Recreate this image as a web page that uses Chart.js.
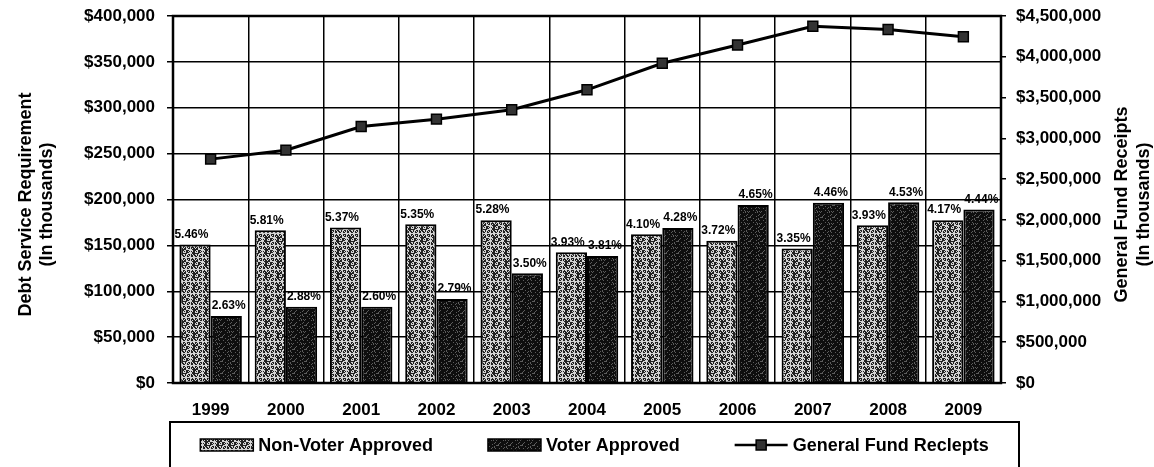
<!DOCTYPE html>
<html>
<head>
<meta charset="utf-8">
<script src="https://cdn.jsdelivr.net/npm/chart.js@4"></script>
<style>
  html, body { margin: 0; padding: 0; background: #fff; }
</style>
</head>
<body>
<canvas id="myChart" width="1154" height="467"></canvas>
<script>
// ---- data ----
let years = ["1999","2000","2001","2002","2003","2004","2005","2006","2007","2008","2009"];
let nonVoter = [151000,166500,169500,173000,177500,142500,162000,155000,146500,172000,177500];
let voter = [73000,83000,83000,91500,119500,138500,169000,194000,196500,197000,189000];
let fundReceipts = [2745000,2855000,3145000,3235000,3350000,3595000,3920000,4145000,4375000,4335000,4245000];
let nonVoterPct = ["5.46%","5.81%","5.37%","5.35%","5.28%","3.93%","4.10%","3.72%","3.35%","3.93%","4.17%"];
let voterPct = ["2.63%","2.88%","2.60%","2.79%","3.50%","3.81%","4.28%","4.65%","4.46%","4.53%","4.44%"];
let leftTicks = [0,50000,100000,150000,200000,250000,300000,350000,400000];
let rightTicks = [0,500000,1000000,1500000,2000000,2500000,3000000,3500000,4000000,4500000];
let legendNames = ["Non-Voter Approved","Voter Approved","General Fund Reclepts"];

const FONT = "'Liberation Sans', Arial, sans-serif";

// stippled fills like the scanned print
function makePattern(bg, fg, limit) {
  let c = document.createElement('canvas');
  c.width = 12; c.height = 12;
  let g = c.getContext('2d');
  g.fillStyle = bg; g.fillRect(0, 0, 12, 12);
  g.fillStyle = fg;
  for (let y = 0; y < 12; y++) {
    for (let x = 0; x < 12; x++) {
      let h = (x * 37 + y * 91 + x * y * 13) % 17;
      if (h < limit) g.fillRect(x, y, 1, 1);
    }
  }
  return g.createPattern(c, 'repeat');
}
let nvFill = makePattern('#d4d4d4', '#222222', 9);
let vFill = makePattern('#0e0e0e', '#5c5c5c', 3);

function money(v) { return '$' + Number(v).toLocaleString('en-US'); }

// keep the tick label overhang from pushing the plot down
function fixedWidth(w) {
  return function (s) { s.width = w; s.paddingTop = 8; s.paddingBottom = 8; };
}

const extras = {
  id: 'extras',
  afterDatasetsDraw(chart) {
    let ctx = chart.ctx;
    ctx.save();
    ctx.font = "bold 12px " + FONT;
    ctx.fillStyle = '#000';
    ctx.textBaseline = 'bottom';
    ctx.textAlign = 'left';
    let m1 = chart.getDatasetMeta(1), m2 = chart.getDatasetMeta(2);
    m1.data.forEach((el, i) => {
      ctx.fillText(nonVoterPct[i], el.x - el.width / 2 - 5, el.y - 4);
    });
    m2.data.forEach((el, i) => {
      ctx.fillText(voterPct[i], el.x - el.width / 2 + 1, el.y - 4);
    });
    ctx.restore();
  },
  afterDraw(chart) {
    let ctx = chart.ctx, a = chart.chartArea;
    ctx.save();
    // plot frame
    ctx.strokeStyle = '#000';
    ctx.lineWidth = 2.5;
    ctx.strokeRect(a.left, a.top, a.right - a.left, a.bottom - a.top);

    // axis titles, both read bottom to top
    ctx.fillStyle = '#000';
    ctx.font = "bold 18px " + FONT;
    ctx.textAlign = 'center';
    ctx.textBaseline = 'middle';
    let midY = (a.top + a.bottom) / 2 + 5;
    [[26, "Debt Service Requirement"], [47, "(In thousands)"],
     [chart.width - 32, "General Fund Receipts"], [chart.width - 10, "(In thousands)"]].forEach(t => {
      ctx.save();
      ctx.translate(t[0], midY);
      ctx.rotate(-Math.PI / 2);
      ctx.fillText(t[1], 0, 0);
      ctx.restore();
    });

    // legend
    let top = a.bottom + 39;
    let boxL = a.left - 3, boxR = a.right + 18;
    ctx.lineWidth = 2;
    ctx.beginPath();
    ctx.moveTo(boxL, chart.height + 5);
    ctx.lineTo(boxL, top);
    ctx.lineTo(boxR, top);
    ctx.lineTo(boxR, chart.height + 5);
    ctx.stroke();

    ctx.font = "bold 18px " + FONT;
    ctx.textAlign = 'left';
    let sw = 53, gapIn = 5, gapOut = 55;
    let widths = legendNames.map(n => sw + gapIn + ctx.measureText(n).width);
    let total = widths.reduce((s, w) => s + w, 0) + gapOut * (legendNames.length - 1);
    let x = (boxL + boxR) / 2 - total / 2;
    let cy = top + 23;
    legendNames.forEach((n, i) => {
      if (i < 2) {
        ctx.fillStyle = i === 0 ? nvFill : vFill;
        ctx.fillRect(x, cy - 6, sw, 12);
        ctx.strokeStyle = '#000';
        ctx.lineWidth = 1.5;
        ctx.strokeRect(x, cy - 6, sw, 12);
      } else {
        ctx.strokeStyle = '#000';
        ctx.lineWidth = 2.5;
        ctx.beginPath();
        ctx.moveTo(x, cy); ctx.lineTo(x + sw, cy);
        ctx.stroke();
        ctx.fillStyle = '#333';
        ctx.fillRect(x + sw / 2 - 5, cy - 5, 10, 10);
        ctx.lineWidth = 1.5;
        ctx.strokeRect(x + sw / 2 - 5, cy - 5, 10, 10);
      }
      ctx.fillStyle = '#000';
      ctx.fillText(n, x + sw + gapIn, cy + 1);
      x += widths[i] + gapOut;
    });
    ctx.restore();
  }
};

new Chart("myChart", {
  data: {
    labels: years,
    datasets: [
      {
        type: 'line',
        label: legendNames[2],
        data: fundReceipts,
        yAxisID: 'y1',
        borderColor: '#000',
        borderWidth: 3,
        pointStyle: 'rect',
        pointRadius: 7,
        pointBackgroundColor: '#333',
        pointBorderColor: '#000',
        pointBorderWidth: 1.5,
        tension: 0
      },
      {
        type: 'bar',
        label: legendNames[0],
        data: nonVoter,
        yAxisID: 'y',
        backgroundColor: nvFill,
        borderColor: '#000',
        borderWidth: 2,
        categoryPercentage: 0.83,
        barPercentage: 1.0
      },
      {
        type: 'bar',
        label: legendNames[1],
        data: voter,
        yAxisID: 'y',
        backgroundColor: vFill,
        borderColor: '#000',
        borderWidth: 2,
        categoryPercentage: 0.83,
        barPercentage: 1.0
      }
    ]
  },
  options: {
    responsive: false,
    animation: false,
    layout: { padding: { top: 16, right: 0, bottom: 45, left: 0 } },
    plugins: {
      legend: { display: false },
      tooltip: { enabled: false }
    },
    scales: {
      x: {
        grid: { color: '#000', lineWidth: 1.5, offset: true, drawTicks: false },
        border: { color: '#000', width: 2 },
        ticks: { color: '#000', font: { family: FONT, size: 17, weight: 'bold' }, padding: 17, maxRotation: 0 },
        afterFit(s) { s.height = 39; }
      },
      y: {
        position: 'left',
        min: 0, max: 400000,
        afterBuildTicks(s) { s.ticks = leftTicks.map(v => ({ value: v })); },
        grid: { color: '#000', lineWidth: 1.5, tickLength: 6 },
        border: { color: '#000', width: 2 },
        ticks: { color: '#000', font: { family: FONT, size: 17, weight: 'bold' }, padding: 12, callback: v => money(v) },
        afterFit: fixedWidth(173)
      },
      y1: {
        position: 'right',
        min: 0, max: 4500000,
        afterBuildTicks(s) { s.ticks = rightTicks.map(v => ({ value: v })); },
        grid: { drawOnChartArea: false, color: '#000', lineWidth: 1.5, tickLength: 5 },
        border: { color: '#000', width: 2 },
        ticks: { color: '#000', font: { family: FONT, size: 17, weight: 'bold' }, padding: 10, callback: v => money(v) },
        afterFit: fixedWidth(153)
      }
    }
  },
  plugins: [extras]
});
</script>
</body>
</html>
